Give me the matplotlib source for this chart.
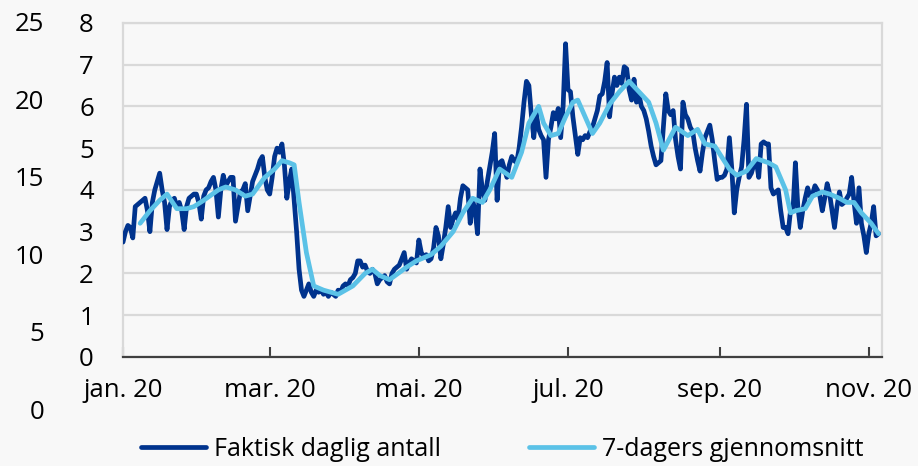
import matplotlib
matplotlib.use("Agg")
import matplotlib.pyplot as plt
import numpy as np
import pandas as pd

# daily values, one list per month (2020)
jan = [2.75, 3.0, 3.15, 3.1, 2.85, 3.6, 3.65, 3.7, 3.75, 3.8, 3.5, 3.0, 3.7, 4.0, 4.2, 4.4,
       4.0, 3.7, 3.05, 3.6, 3.75, 3.8, 3.6, 3.7, 3.5, 3.05, 3.6, 3.8, 3.85, 3.9, 3.9]
feb = [3.7, 3.3, 3.85, 4.0, 4.05, 4.2, 4.3, 4.0, 3.35, 4.0, 4.35, 4.1, 4.2, 4.3, 4.3, 3.25,
       3.6, 3.95, 4.0, 4.15, 3.5, 3.85, 4.2, 4.35, 4.5, 4.7, 4.8, 4.3, 4.0]
mar = [3.9, 4.3, 4.8, 5.0, 4.9, 5.1, 4.6, 3.8, 4.2, 4.5, 3.75, 3.0, 2.1, 1.6, 1.45, 1.6,
       1.75, 1.55, 1.45, 1.6, 1.55, 1.6, 1.5, 1.55, 1.45, 1.55, 1.5, 1.45, 1.6, 1.55, 1.7]
apr = [1.75, 1.7, 1.85, 1.9, 2.0, 2.3, 2.3, 2.15, 2.2, 2.05, 2.0, 2.1, 2.0, 1.75, 1.85,
       1.9, 1.95, 1.8, 1.75, 2.0, 2.1, 2.15, 2.2, 2.35, 2.5, 2.1, 2.25, 2.35, 2.3, 2.25]
mai = [2.8, 2.5, 2.4, 2.45, 2.3, 2.35, 2.6, 3.1, 2.9, 2.35, 2.7, 3.1, 3.6, 3.1, 3.3, 3.45,
       3.3, 3.8, 4.1, 4.05, 4.0, 3.2, 3.75, 3.5, 2.95, 4.5, 4.0, 3.75, 4.2, 4.55, 4.9]
jun = [5.35, 3.75, 4.65, 4.7, 4.5, 4.3, 4.6, 4.8, 4.7, 4.65, 5.0, 5.5, 6.1, 6.6, 6.5, 5.8,
       5.25, 5.85, 5.45, 5.3, 5.2, 4.3, 5.2, 5.5, 5.85, 5.7, 5.95, 5.25, 6.0, 7.5]
jul = [6.4, 6.35, 5.75, 5.3, 4.85, 5.25, 5.2, 5.3, 5.25, 5.4, 5.5, 5.7, 5.9, 6.25, 6.3, 6.6,
       7.05, 5.75, 6.3, 6.7, 6.5, 6.7, 6.55, 6.95, 6.9, 6.4, 6.15, 6.65, 6.1, 6.3, 6.0]
aug = [5.9, 5.7, 5.4, 5.05, 4.8, 4.6, 4.65, 4.7, 5.5, 6.3, 5.9, 5.8, 5.9, 5.2, 4.8, 4.5,
       6.1, 5.8, 5.7, 5.5, 5.4, 5.0, 4.7, 4.45, 4.9, 5.25, 5.4, 5.55, 5.2, 4.7, 4.25]
sep = [4.3, 4.3, 4.35, 4.5, 5.25, 4.5, 3.45, 4.0, 4.3, 4.55, 5.2, 6.05, 4.3, 4.4, 4.6, 4.7,
       4.3, 5.1, 5.15, 5.1, 5.1, 4.05, 3.9, 3.95, 4.0, 3.5, 3.1, 3.1, 2.95, 3.5]
okt = [3.5, 4.65, 3.6, 3.1, 3.5, 3.8, 4.05, 3.85, 3.9, 4.1, 4.0, 3.85, 3.5, 3.8, 4.15, 3.9,
       3.5, 3.1, 3.6, 3.95, 3.65, 3.7, 3.8, 3.9, 4.3, 3.7, 3.2, 4.05, 3.2, 2.9, 2.5]
nov = [2.95, 3.2, 3.6, 2.9, 2.95]

daily = jan + feb + mar + apr + mai + jun + jul + aug + sep + okt + nov

# 7-day average, read at selected days (days after 1 Jan 2020)
avg_day = [7, 11, 15, 18, 22, 26, 29, 33, 39, 42, 46, 50, 53, 58, 62, 65, 68, 70, 72, 75,
           78, 82, 88, 94, 99, 102, 105, 109, 116, 120, 126, 130, 135, 139, 143, 147, 150,
           154, 159, 163, 166, 170, 172, 175, 178, 181, 184, 186, 189, 192, 195, 199, 203,
           207, 211, 215, 218, 221, 226, 231, 235, 238, 242, 248, 251, 255, 259, 264, 267,
           271, 273, 275, 279, 282, 286, 289, 293, 296, 299, 302, 306, 309]
avg_val = [3.2, 3.5, 3.75, 3.9, 3.55, 3.55, 3.6, 3.75, 4.0, 4.07, 4.0, 3.85, 3.9, 4.3, 4.5,
           4.7, 4.65, 4.6, 3.7, 2.5, 1.7, 1.6, 1.5, 1.7, 2.0, 2.1, 1.95, 1.85, 2.15, 2.3,
           2.45, 2.65, 3.0, 3.45, 3.8, 3.7, 4.0, 4.5, 4.3, 4.9, 5.6, 6.0, 5.6, 5.3, 5.35,
           5.75, 6.1, 6.15, 5.75, 5.35, 5.6, 6.05, 6.35, 6.6, 6.35, 6.1, 5.6, 4.95, 5.5,
           5.3, 5.45, 5.1, 5.05, 4.5, 4.35, 4.45, 4.75, 4.65, 4.55, 4.0, 3.45, 3.5, 3.55,
           3.85, 3.95, 3.9, 3.8, 3.7, 3.7, 3.45, 3.2, 2.95]

tick_dates = ['2020-01-01', '2020-03-01', '2020-05-01', '2020-07-01', '2020-09-01', '2020-11-01']
tick_labels = ['jan. 20', 'mar. 20', 'mai. 20', 'jul. 20', 'sep. 20', 'nov. 20']
left_ticks = [0, 5, 10, 15, 20, 25]

start = pd.Timestamp('2020-01-01')
dates = pd.date_range(start, periods=len(daily), freq='D')
avg_dates = [start + pd.Timedelta(days=d) for d in avg_day]

plt.rcParams['font.family'] = ['Open Sans', 'DejaVu Sans']
fs = 18.5
bg = '#f8f8f8'
grid = '#d9d9d9'
dark = '#00338d'
light = '#5bc2e7'

fig = plt.figure(figsize=(9.18, 4.66), dpi=100, facecolor=bg)
ax = fig.add_axes([0.134, 0.234, 0.827, 0.717])
ax.set_facecolor(bg)

ax.plot(dates, daily, color=dark, lw=3.4, solid_joinstyle='round', solid_capstyle='round',
        label='Faktisk daglig antall', zorder=3)
ax.plot(avg_dates, avg_val, color=light, lw=3.4, solid_joinstyle='round', solid_capstyle='round',
        label='7-dagers gjennomsnitt', zorder=4)

ax.set_ylim(0, 8)
ax.set_yticks(range(0, 9))
ax.set_xlim(start, start + pd.Timedelta(days=310.5))
ax.set_xticks(pd.to_datetime(tick_dates))
ax.set_xticklabels(tick_labels)

ax.grid(axis='y', color=grid, lw=1.6, zorder=0)
ax.grid(axis='x', visible=False)
for s in ['left', 'top', 'right']:
    ax.spines[s].set_color(grid)
    ax.spines[s].set_linewidth(1.6)
ax.spines['bottom'].set_color('#404040')
ax.spines['bottom'].set_linewidth(1.6)
ax.tick_params(axis='x', direction='in', length=7, width=1.5, color='#404040',
               labelsize=fs, pad=15)
ax.tick_params(axis='y', length=0, labelsize=fs, pad=21)

# outer left scale
ax2 = fig.add_axes([0.048, 0.122, 0.001, 0.831])
ax2.set_ylim(0, 25)
ax2.set_yticks(left_ticks)
ax2.tick_params(axis='y', length=0, labelsize=fs, pad=0)
ax2.set_xticks([])
for s in ax2.spines.values():
    s.set_visible(False)
ax2.patch.set_visible(False)

fig.legend(loc='center', bbox_to_anchor=(0.547, 0.035), ncol=2, frameon=False,
           fontsize=18, handlelength=2.6, handletextpad=0.32, columnspacing=3.55)

fig.savefig('out.png', dpi=100, facecolor=bg)
